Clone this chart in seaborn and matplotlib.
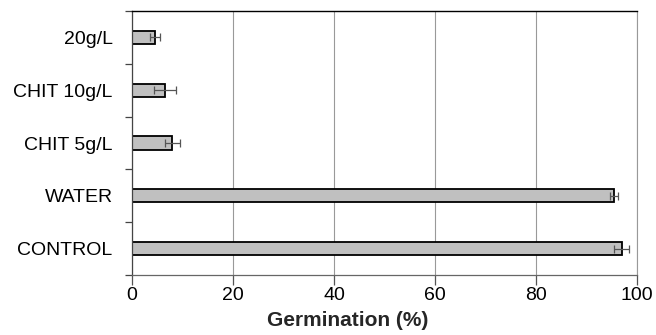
import matplotlib
matplotlib.use("Agg")
import matplotlib.pyplot as plt
import seaborn as sns
import numpy as np
import pandas as pd

categories = ["20g/L", "CHIT 10g/L", "CHIT 5g/L", "WATER", "CONTROL"]
germination = [4.5, 6.5, 8.0, 95.4, 97.0]
errors = [1.0, 2.2, 1.5, 0.8, 1.5]
xticks = [0, 20, 40, 60, 80, 100]

df = pd.DataFrame({"cat": categories, "val": germination, "err": errors})

sns.set_theme(style="white")
plt.rcParams['font.family'] = ['Liberation Sans', 'DejaVu Sans']
plt.rcParams['text.color'] = 'black'
plt.rcParams['xtick.color'] = 'black'
plt.rcParams['ytick.color'] = 'black'

fig = plt.figure(figsize=(6.56, 3.35), dpi=100)
ax = fig.add_axes([132/656, 1 - 275/335, (637-132)/656, (275-11)/335])

sns.barplot(data=df, x="val", y="cat", orient="h", color="#c0c0c0",
            edgecolor="black", linewidth=1.3, width=0.25, ax=ax, errorbar=None,
            saturation=1)
ypos = np.arange(len(categories))
ax.errorbar(df["val"], ypos, xerr=df["err"], fmt="none", ecolor="#555555",
            elinewidth=0.9, capsize=3, capthick=0.9)

ax.set_xlim(0, 100)
ax.set_ylim(len(categories) - 0.5, -0.5)
ax.set_xticks(xticks)
ax.set_xticklabels([str(t) for t in xticks], fontsize=14)
ax.xaxis.grid(True, color="#999999", linewidth=0.8)
ax.set_axisbelow(True)

ax.set_yticks(ypos)
ax.set_yticklabels(categories, fontsize=14)
ax.tick_params(axis="y", which="major", length=0, pad=14)
ax.set_yticks(np.arange(-0.5, len(categories) + 0.5, 1), minor=True)
ax.tick_params(axis="y", which="minor", length=5, color="#444444", width=0.9, left=True)
ax.tick_params(axis="x", length=7, color="#555555", width=0.9, bottom=True, pad=2)

ax.set_xlabel("Germination (%)", fontsize=15, fontweight="bold")
ax.xaxis.set_label_coords((348 - 132) / 505, -0.135)
ax.set_ylabel("")

ax.spines["right"].set_color("#999999")
ax.spines["right"].set_linewidth(0.8)
ax.spines["top"].set_color("black")
ax.spines["top"].set_linewidth(1.0)
ax.spines["left"].set_color("#444444")
ax.spines["left"].set_linewidth(0.9)
ax.spines["bottom"].set_color("#666666")
ax.spines["bottom"].set_linewidth(0.9)

fig.savefig("out.png", dpi=100)
